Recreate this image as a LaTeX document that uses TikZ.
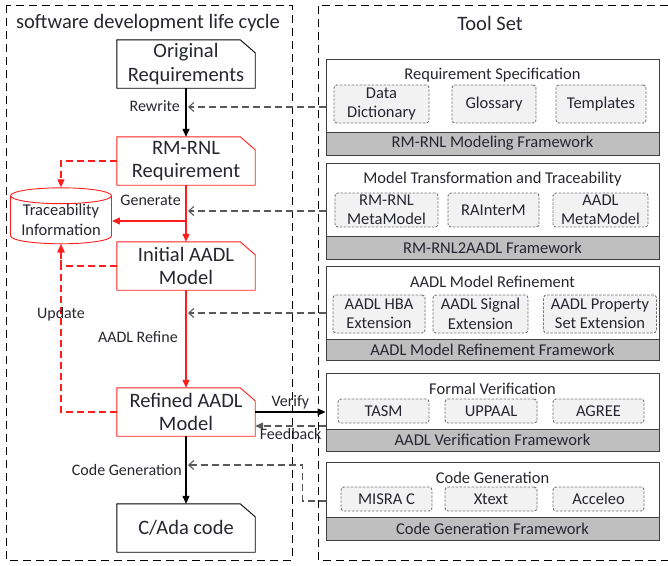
\documentclass[tikz,border=0pt]{standalone}
\usepackage{fontspec}
\setmainfont{Carlito}
\usepackage{xcolor}
\usepackage{tikz}
\usetikzlibrary{arrows.meta,shapes.geometric,positioning,calc}

\definecolor{txt}{RGB}{38,38,48}
\definecolor{tapc}{RGB}{89,89,89}
\definecolor{barc}{RGB}{191,191,191}
\definecolor{subc}{RGB}{242,242,242}
\definecolor{rd}{RGB}{255,30,30}

\begin{document}
\begin{tikzpicture}[
            x=1pt, y=-1pt,
            every node/.style={text=txt},
            doc/.style={minimum width=138pt, minimum height=48pt, align=center, inner sep=0pt, font=\fontsize{20.5}{23.5}\selectfont},
            lbl/.style={inner sep=1pt, font=\fontsize{16}{18}\selectfont},
            frame/.style={line width=0.9pt, dash pattern=on 8pt off 5pt},
            tsbox/.style={draw=black!75, line width=0.9pt, minimum width=333pt, inner sep=0pt},
            tsbar/.style={draw=black!75, line width=0.9pt, fill=barc, minimum width=333pt, minimum height=23pt, inner sep=0pt, font=\fontsize{16.5}{18}\selectfont},
            tstitle/.style={inner sep=0pt, font=\fontsize{16.5}{18}\selectfont},
            tool/.style={draw=black!55, line width=0.9pt, dash pattern=on 2.5pt off 1.5pt, fill=subc, rounded corners=3pt, align=center, inner sep=0pt, font=\fontsize{16.5}{19.5}\selectfont},
            blk arr/.style={line width=1.1pt, -{Triangle[length=8pt,width=7pt]}},
            red arr/.style={rd, line width=1.1pt, -{Triangle[length=8pt,width=7pt]}},
            red dash/.style={rd, line width=1.1pt, dash pattern=on 7pt off 4pt, -{Triangle[length=8pt,width=7pt]}},
            tap/.style={tapc, line width=1.1pt, dash pattern=on 7pt off 4pt, -{Straight Barb[length=5pt,width=9pt]}},
            tap back/.style={tapc, line width=1.1pt, dash pattern=on 7pt off 4pt, -{Triangle[length=8pt,width=7pt]}},
        ]
            \useasboundingbox (0,0) rectangle (668,565);

            % frames
            \draw[frame] (6,5) rectangle (292,560);
            \draw[frame] (668,5) -- (318,5) -- (318,560) -- (668,560);
            \node[font=\fontsize{20.5}{23}\selectfont] (lifecycle) at (148,23) {software development life cycle};
            \node[font=\fontsize{20.5}{23}\selectfont] (toolset) at (490,23) {Tool Set};

            % life cycle
            \node[doc] (orig) at (186,64) {Original\\Requirements};
            \node[doc] (rmrnl) at (186,161) {RM-RNL\\Requirement};
            \node[doc] (init) at (186,266) {Initial AADL\\Model};
            \node[doc] (ref) at (186,412) {Refined AADL\\Model};
            \node[doc] (cada) at (186,528) {C/Ada code};
            \foreach \n/\c in {orig/black, rmrnl/rd, init/rd, ref/rd, cada/black}
                \draw[\c, line width=0.9pt] (\n.south west) -- (\n.north west) -- ([xshift=-15pt]\n.north east)
                    -- ([yshift=-13pt]\n.north east) -- (\n.south east) -- cycle;

            \node[cylinder, shape border rotate=90, aspect=0.2, draw=rd, line width=0.9pt, minimum width=101pt, minimum height=56pt,
                align=center, inner sep=0pt, font=\fontsize{16.5}{20}\selectfont] (trace) at (61,220) {Traceability\\Information};

            \coordinate (rw) at (188,107);
            \coordinate (gn) at (188,211);
            \coordinate (rf) at (188,313);
            \coordinate (cg) at (188,465);
            \coordinate (gen) at (186,221);
            \coordinate (fb) at (326,426);

            \draw[blk arr] (orig) -- (rmrnl);
            \draw[red arr] (rmrnl) -- (init);
            \draw[red arr] (init) -- (ref);
            \draw[blk arr] (ref) -- (cada);
            \draw[red arr] (gen) -- (gen -| trace.east);
            \draw[red dash] (rmrnl.west) -| (trace.north);
            \draw[red dash] (init.west) -| (trace.south);
            \draw[red dash] (ref.west) -| (trace.south) node[lbl, pos=0.79] {Update};

            \node[lbl, anchor=east] (rwl) at (181,106) {Rewrite};
            \node[lbl, anchor=east] (gnl) at (182,200) {Generate};
            \node[lbl, anchor=east] (rfl) at (179,337) {AADL Refine};
            \node[lbl, anchor=east] (cgl) at (183,470) {Code Generation};

            % tool set
            \node[tsbox, minimum height=96pt] (ts1) at (492.5,107) {};
            \node[tsbar, anchor=south] (ts1bar) at (ts1.south) {RM-RNL Modeling Framework};
            \node[tstitle] (ts1t) at (492.5,75) {Requirement Specification};
            \node[tool, minimum width=95pt, minimum height=38pt] (dd) at (381.5,104) {Data\\Dictionary};
            \node[tool, minimum width=84pt, minimum height=38pt] (gl) at (494,104) {Glossary};
            \node[tool, minimum width=90pt, minimum height=38pt] (tp) at (601,104) {Templates};

            \node[tsbox, minimum height=96pt] (ts2) at (492.5,211) {};
            \node[tsbar, anchor=south] (ts2bar) at (ts2.south) {RM-RNL2AADL Framework};
            \node[tstitle] (ts2t) at (492.5,179) {Model Transformation and Traceability};
            \node[tool, minimum width=103pt, minimum height=34pt] (rmm) at (386.5,210) {RM-RNL\\MetaModel};
            \node[tool, minimum width=91pt, minimum height=34pt] (rai) at (493.5,210) {RAInterM};
            \node[tool, minimum width=95pt, minimum height=34pt] (amm) at (600.5,210) {AADL\\MetaModel};

            \node[tsbox, minimum height=94pt] (ts3) at (492.5,313) {};
            \node[tsbar, anchor=south, minimum height=21pt] (ts3bar) at (ts3.south) {AADL Model Refinement Framework};
            \node[tstitle] (ts3t) at (492.5,282) {AADL Model Refinement};
            \node[tool, minimum width=92pt, minimum height=38pt] (hba) at (379,314) {AADL HBA\\Extension};
            \node[tool, minimum width=95pt, minimum height=38pt] (sig) at (480.5,314) {AADL Signal\\Extension};
            \node[tool, minimum width=113pt, minimum height=38pt] (pse) at (600,314) {AADL Property\\Set Extension};

            \node[tsbox, minimum height=78pt] (ts4) at (492.5,412) {};
            \node[tsbar, anchor=south, minimum height=22pt] (ts4bar) at (ts4.south) {AADL Verification Framework};
            \node[tstitle] (ts4t) at (492.5,389) {Formal Verification};
            \node[tool, minimum width=91pt, minimum height=24pt] (tasm) at (383.5,411) {TASM};
            \node[tool, minimum width=92pt, minimum height=24pt] (upp) at (491,411) {UPPAAL};
            \node[tool, minimum width=91pt, minimum height=24pt] (agr) at (598.5,411) {AGREE};

            \node[tsbox, minimum height=78pt] (ts5) at (492.5,501) {};
            \node[tsbar, anchor=south] (ts5bar) at (ts5.south) {Code Generation Framework};
            \node[tstitle] (ts5t) at (492.5,478) {Code Generation};
            \node[tool, minimum width=91pt, minimum height=24pt] (mis) at (386.5,499) {MISRA C};
            \node[tool, minimum width=92pt, minimum height=24pt] (xt) at (491,499) {Xtext};
            \node[tool, minimum width=91pt, minimum height=24pt] (acc) at (598.5,499) {Acceleo};

            % tool links
            \draw[tap] (ts1.west) -- (rw);
            \draw[tap] (ts2.west) -- (gn);
            \draw[tap] (ts3.west) -- (rf);
            \draw[tap] (ts5.west) -- ++(-23,0) |- (cg);
            \draw[blk arr] (ref.east) -- (ref.east -| ts4.west) node[lbl, midway, above=1pt] {Verify};
            \draw[tap back] (fb) -- (fb -| ref.east) node[lbl, midway, below=1pt] {Feedback};
        \end{tikzpicture}
\end{document}
